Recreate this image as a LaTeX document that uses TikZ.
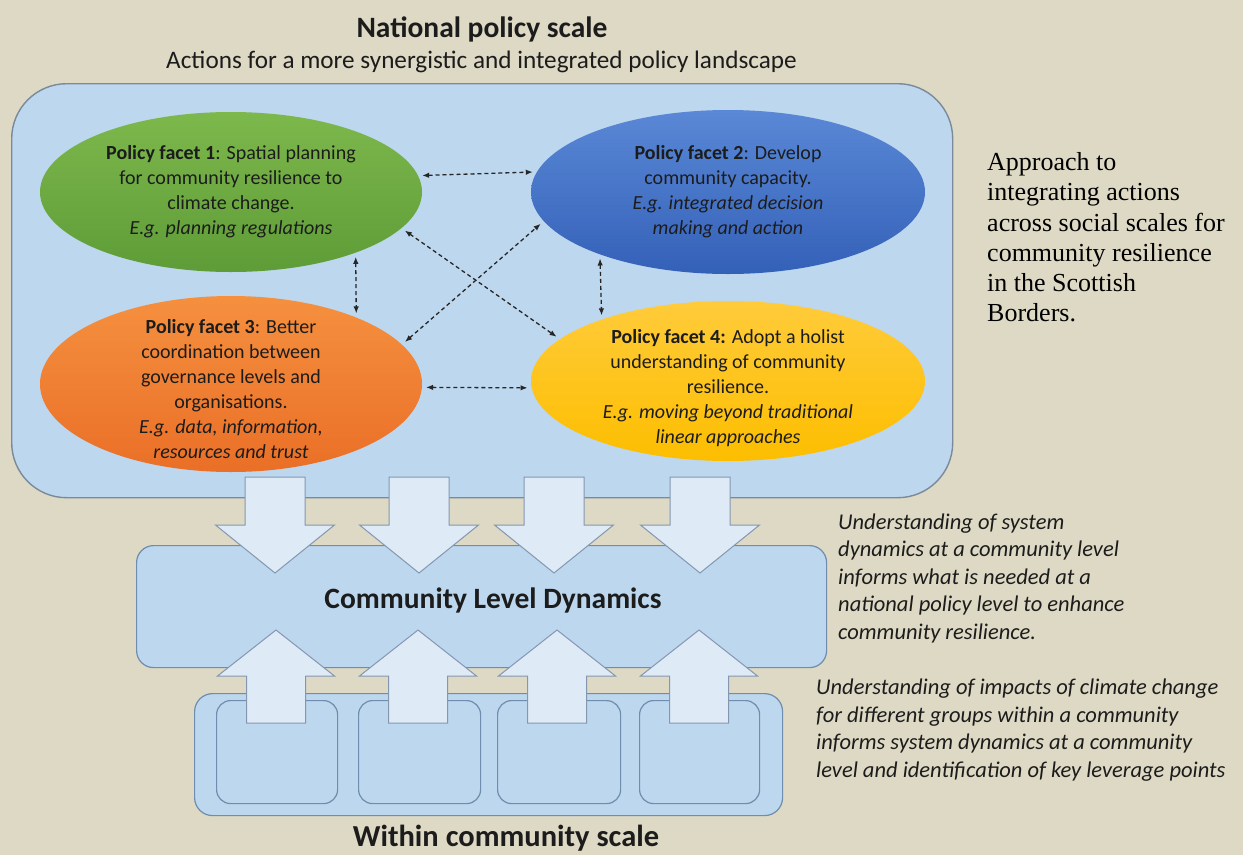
\documentclass[tikz,border=0pt]{standalone}
\usepackage{fontspec}
\setmainfont{Carlito}
\newfontfamily\timesfont{Liberation Serif}
\usetikzlibrary{shapes.geometric,arrows.meta}
\definecolor{bg}{HTML}{DDD9C4}
\definecolor{boxblue}{HTML}{BDD7EE}
\definecolor{boxline}{HTML}{7A8A9A}
\definecolor{cldline}{HTML}{6F8DAE}
\definecolor{arrfill}{HTML}{DEEBF7}
\definecolor{arrline}{HTML}{8497B0}
\definecolor{txt}{HTML}{1C1C1C}
\definecolor{gtop}{HTML}{7DB84C}
\definecolor{gbot}{HTML}{5E9C37}
\definecolor{btop}{HTML}{5A88D6}
\definecolor{bbot}{HTML}{3461B8}
\definecolor{otop}{HTML}{F5903F}
\definecolor{obot}{HTML}{EA6F27}
\definecolor{ytop}{HTML}{FFCB3A}
\definecolor{ybot}{HTML}{FDBE00}
\tikzset{
  mainbox/.style={draw=boxline, line width=1.4pt, fill=boxblue, rounded corners=55pt, inner sep=0pt},
  cldbox/.style={draw=cldline, line width=1.2pt, fill=boxblue, rounded corners=17pt, inner sep=0pt},
  outerbox/.style={draw=cldline, line width=1.2pt, fill=boxblue, rounded corners=18pt, inner sep=0pt},
  innerbox/.style={draw=cldline, line width=1.2pt, fill=boxblue, rounded corners=14pt, inner sep=0pt},
  ell/.style={ellipse, inner sep=0pt, draw=none},
  etext/.style={align=center, text=txt, inner sep=0pt, font=\fontsize{20}{25}\selectfont},
  dasharrow/.style={line width=1.3pt, draw=black!85, dash pattern=on 4pt off 3pt,
    {Latex[length=7pt,width=5.5pt]}-{Latex[length=7pt,width=5.5pt]}, shorten <=4pt, shorten >=4pt},
  blockarrow/.style={draw=arrline, line width=1pt, fill=arrfill, line join=miter},
  heading/.style={font=\fontsize{29.5}{34}\selectfont\bfseries, text=txt, inner sep=0pt},
  note/.style={font=\fontsize{22.5}{27.5}\selectfont\itshape, text=txt, align=left, inner sep=0pt},
}
\begin{document}
\begin{tikzpicture}[x=1pt,y=-1pt]
\fill[bg] (0,0) rectangle (1243,855);
\useasboundingbox (0,0) rectangle (1243,855);

% titles
\node[heading, anchor=base] (t1) at (482,37) {National policy scale};
\node[font=\fontsize{25.2}{30}\selectfont, text=txt, inner sep=0pt, anchor=base] (t2) at (481.5,68) {Actions for a more synergistic and integrated policy landscape};

% main box
\node[mainbox, minimum width=941pt, minimum height=414pt, anchor=north west] (main) at (11,83) {};

% ellipses
\node[ell, minimum width=382pt, minimum height=160pt, top color=gtop, bottom color=gbot] (e1) at (231,192) {};
\node[ell, minimum width=394pt, minimum height=164pt, top color=btop, bottom color=bbot] (e2) at (728,192) {};
\node[ell, minimum width=382pt, minimum height=176pt, top color=otop, bottom color=obot] (e3) at (231,384) {};
\node[ell, minimum width=394pt, minimum height=160pt, top color=ytop, bottom color=ybot] (e4) at (728,381) {};

\node[etext] (x1) at (231,192) {\textbf{Policy facet 1}: Spatial planning\\for community resilience to\\climate change.\\\textit{E.g. planning regulations}};
\node[etext] (x2) at (728,192) {\textbf{Policy facet 2}: Develop\\community capacity.\\\textit{E.g. integrated decision}\\\textit{making and action}};
\node[etext] (x3) at (231,389) {\textbf{Policy facet 3}: Better\\coordination between\\governance levels and\\organisations.\\\textit{E.g. data, information,}\\\textit{resources and trust}};
\node[etext] (x4) at (728,388.5) {\textbf{Policy facet 4:} Adopt a holist\\understanding of community\\resilience.\\\textit{E.g. moving beyond traditional}\\\textit{linear approaches}};

% dashed connectors
\draw[dasharrow] (e1.5.5) -- (e2.174.6);
\draw[dasharrow] (e3.-1.2) -- (e4.182);
\draw[dasharrow] (e1.-26.4) -- (e3.28.6);
\draw[dasharrow] (e2.-154.3) -- (e4.154.9);
\draw[dasharrow] (e1.-12) -- (e4.166.9);
\draw[dasharrow] (e3.13.7) -- (e2.-171.5);

% community level dynamics box
\node[cldbox, minimum width=690pt, minimum height=122pt, anchor=north west] (cld) at (136,545) {};
\node[heading, anchor=base] (cldt) at (493,608) {Community Level Dynamics};

% down arrows
\foreach \c in {275,419,554,700}
  \draw[blockarrow] ({\c-30},477) -- ({\c+30},477) -- ({\c+30},525) -- ({\c+59.5},525)
     -- (\c,573) -- ({\c-59.5},525) -- ({\c-30},525) -- cycle;

% within community boxes
\node[outerbox, minimum width=588pt, minimum height=122pt, anchor=north west] (wc) at (194,693) {};
\node[innerbox, minimum width=121pt, minimum height=103pt, anchor=north west] (w1) at (216,700) {};
\node[innerbox, minimum width=122pt, minimum height=103pt, anchor=north west] (w2) at (358,700) {};
\node[innerbox, minimum width=123pt, minimum height=103pt, anchor=north west] (w3) at (497,700) {};
\node[innerbox, minimum width=120pt, minimum height=103pt, anchor=north west] (w4) at (639,700) {};

% up arrows
\foreach \c in {276,418,557,699}
  \draw[blockarrow] ({\c-29.5},723) -- ({\c+29.5},723) -- ({\c+29.5},676) -- ({\c+58.5},676)
     -- (\c,630) -- ({\c-58.5},676) -- ({\c-29.5},676) -- cycle;

\node[heading, font=\fontsize{30.5}{35}\selectfont\bfseries, anchor=base] (wct) at (506,846.5) {Within community scale};

% side texts (anchor base = baseline of the last line)
\node[font=\timesfont\fontsize{26}{30.2}\selectfont, text=black, align=left, inner sep=0pt, anchor=base west] (side) at (987,321.7)
  {Approach to\\integrating actions\\across social scales for\\community resilience\\in the Scottish\\Borders.};
\node[note, anchor=base west] (n1) at (838,639)
  {Understanding of system\\dynamics at a community level\\informs what is needed at a\\national policy level to enhance\\community resilience.};
\node[note, anchor=base west] (n2) at (816,777)
  {Understanding of impacts of climate change\\for different groups within a community\\informs system dynamics at a community\\level and identification of key leverage points};
\end{tikzpicture}
\end{document}
